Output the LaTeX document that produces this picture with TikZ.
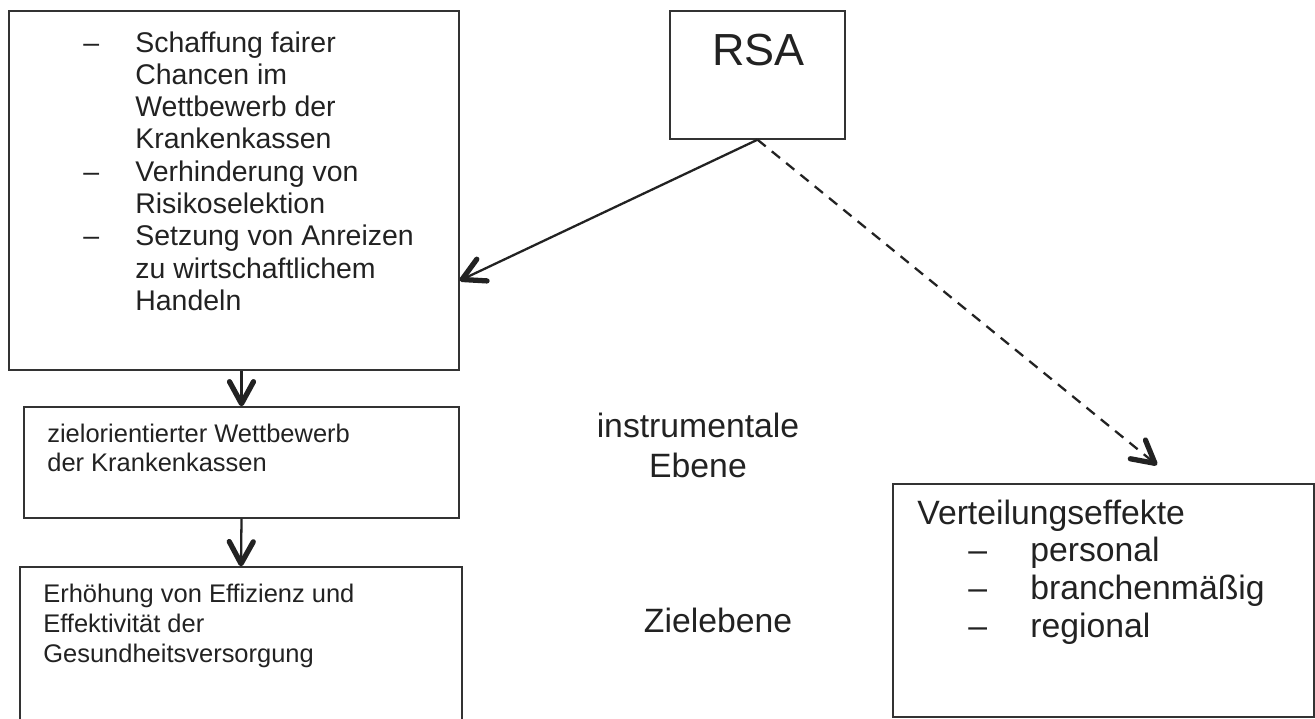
\documentclass[tikz,border=0pt]{standalone}
\usepackage{fontspec}
\setmainfont{Liberation Sans}
\usetikzlibrary{arrows.meta, calc}
\definecolor{tinte}{HTML}{222222}
\definecolor{rahmen}{HTML}{333333}
\newcommand{\strich}[1]{\makebox[#1][l]{–}}

\begin{document}
\begin{tikzpicture}[x=0.02cm, y=-0.02cm, text=tinte,
  kasten/.style={draw=rahmen, line width=0.8pt, inner sep=0pt},
  txt/.style={inner sep=0pt, anchor=base west},
  spitze/.tip={Straight Barb[length=4.4mm, width=4.8mm, line width=3pt, round]},
  pfeil/.style={-spitze, line width=1.3pt, tinte}
]
  \useasboundingbox (0,0) rectangle (1315,718);
  \clip (0,0) rectangle (1315,718);
  % Kaesten
  \node[kasten, minimum width=9cm, minimum height=7.18cm] (ziele) at (234,190.5) {};
  \node[kasten, minimum width=3.5cm, minimum height=2.56cm] (rsa) at (757.5,75) {};
  \node[kasten, minimum width=8.7cm, minimum height=2.22cm] (wettb) at (241.5,462.5) {};
  \node[kasten, minimum width=8.84cm, minimum height=3.46cm] (effiz) at (241,653.5) {};
  \node[kasten, minimum width=8.42cm, minimum height=4.66cm] (vert) at (1103.5,600.5) {};
  \coordinate (vspitze) at (1157,465);

  % Texte
  \node[inner sep=0pt, anchor=base, font=\fontsize{25.6}{30}\selectfont] (rsatxt) at (758.5,65) {RSA};
  \node[txt, font=\fontsize{16.2}{18.4}\selectfont] (zieltxt) at (83,52) {\begin{tabular}[t]{@{}l@{}}
    \strich{1.04cm}Schaffung fairer\\
    \hspace*{1.04cm}Chancen im\\
    \hspace*{1.04cm}Wettbewerb der\\
    \hspace*{1.04cm}Krankenkassen\\
    \strich{1.04cm}Verhinderung von\\
    \hspace*{1.04cm}Risikoselektion\\
    \strich{1.04cm}Setzung von Anreizen\\
    \hspace*{1.04cm}zu wirtschaftlichem\\
    \hspace*{1.04cm}Handeln
  \end{tabular}};
  \node[txt, font=\fontsize{14.5}{16.8}\selectfont] (wettbtxt) at (47,442) {\begin{tabular}[t]{@{}l@{}}
    zielorientierter Wettbewerb\\
    der Krankenkassen
  \end{tabular}};
  \node[txt, font=\fontsize{14.5}{17.3}\selectfont] (effiztxt) at (43,602) {\begin{tabular}[t]{@{}l@{}}
    Erhöhung von Effizienz und\\
    Effektivität der\\
    Gesundheitsversorgung
  \end{tabular}};
  \node[txt, font=\fontsize{19.2}{21.5}\selectfont] (verttxt) at (917,524) {\begin{tabular}[t]{@{}l@{}}
    Verteilungseffekte\\
    \hspace*{1.02cm}\strich{1.24cm}personal\\
    \hspace*{1.02cm}\strich{1.24cm}branchenmäßig\\
    \hspace*{1.02cm}\strich{1.24cm}regional
  \end{tabular}};
  \node[inner sep=0pt, anchor=base, font=\fontsize{19.2}{23.2}\selectfont] (instr) at (698,437) {\begin{tabular}[t]{@{}c@{}}
    instrumentale\\
    Ebene
  \end{tabular}};
  \node[inner sep=0pt, anchor=base, font=\fontsize{19.2}{23.2}\selectfont] (zielebene) at (718,632) {Zielebene};

  % Pfeile
  \draw[pfeil] (rsa.south) -- ($(ziele.south east)!0.25!(ziele.north east)$);
  \draw[pfeil, dash pattern=on 6pt off 4.5pt] (rsa.south) -- (vspitze);
  \draw[pfeil] (wettb.north |- ziele.south) -- (wettb.north);
  \draw[pfeil] (wettb.south) -- (effiz.north);
\end{tikzpicture}
\end{document}
